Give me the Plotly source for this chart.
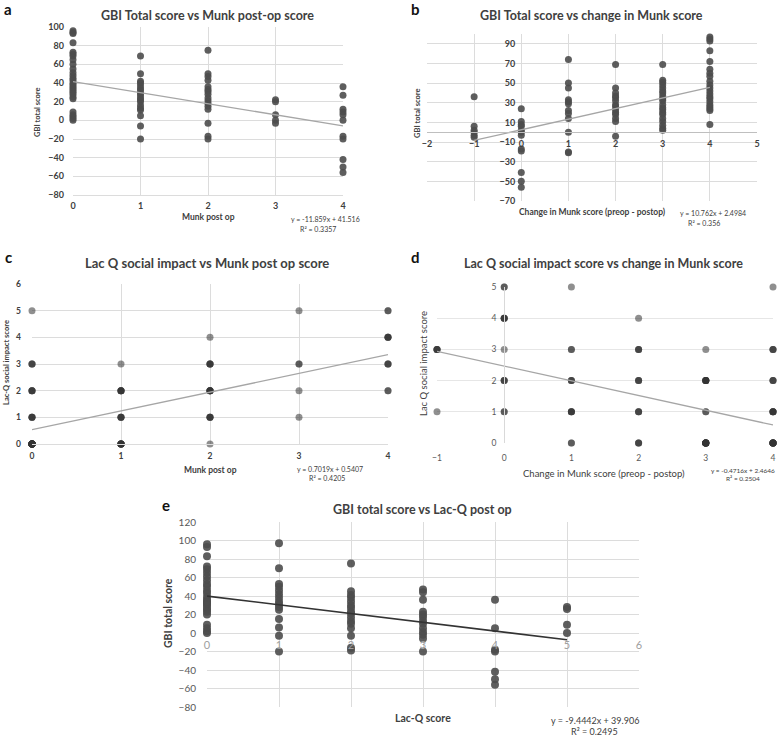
import plotly.graph_objects as go

W, H = 780, 737
FONT = "Lato"

# ---------------- data ----------------
# Panel a: GBI total score vs Munk post-op score
a_munk = [0, 1, 2, 3, 4]
a_gbi = [
    [96, 94, 93, 83, 73, 71, 69, 65, 60, 55, 51, 48, 45, 43, 40, 38, 36, 34, 32, 30, 28, 25, 23, 9, 6, 4, 2, 0],
    [69, 50, 42, 40, 37, 34, 32, 29, 27, 24, 22, 20, 16, 13, 11, 5, -6, -20],
    [75, 50, 47, 43, 36, 33, 31, 28, 24, 21, 18, 15, 12, -3, -17, -20],
    [22, 20, 6, 0, -3],
    [36, 27, 12, 9, 6, 0, -17, -20, -42, -50, -56],
]
a_fit = (-11.859, 41.516)
a_fit_x = [0, 4]

# Panel b: GBI total score vs change in Munk score
b_change = [-1, 0, 1, 2, 3, 4]
b_gbi = [
    [36, 6, 2, 0, -3, -5],
    [24, 11, 8, 6, 2, 0, -3, -17, -19, -41, -50, -56],
    [74, 50, 45, 33, 31, 29, 22, 19, 14, 0, -20, -21],
    [69, 45, 40, 37, 35, 32, 28, 26, 23, 20, 18, 14, 11, -4],
    [69, 53, 51, 48, 45, 42, 40, 37, 34, 32, 28, 25, 23, 20, 18, 14, 11, 7, 4, 2],
    [97, 95, 93, 83, 72, 64, 60, 57, 52, 48, 45, 42, 39, 36, 34, 31, 28, 26, 24, 22, 8],
]
b_fit = (10.762, 2.4984)
b_fit_x = [-1, 4]

# Panel c: Lac-Q social impact vs Munk post op (x, y, number of patients)
c_munk = [0, 0, 0, 0, 0, 1, 1, 1, 1, 2, 2, 2, 2, 2, 3, 3, 3, 3, 4, 4, 4, 4]
c_lacq = [5, 3, 2, 1, 0, 3, 2, 1, 0, 4, 3, 2, 1, 0, 5, 3, 2, 1, 5, 4, 3, 2]
c_count = [1, 3, 4, 4, 16, 1, 5, 4, 8, 1, 4, 6, 4, 1, 1, 2, 1, 1, 2, 4, 3, 2]
c_fit = (0.7019, 0.5407)
c_fit_x = [0, 4]

# Panel d: Lac-Q social impact vs change in Munk score
d_change = [-1, -1, 0, 0, 0, 0, 0, 1, 1, 1, 1, 1, 2, 2, 2, 2, 2, 3, 3, 3, 3, 4, 4, 4, 4, 4]
d_lacq = [3, 1, 5, 4, 3, 2, 1, 5, 3, 2, 1, 0, 4, 3, 2, 1, 0, 3, 2, 1, 0, 5, 3, 2, 1, 0]
d_count = [4, 1, 2, 4, 1, 3, 2, 1, 2, 3, 4, 2, 1, 3, 3, 3, 3, 1, 6, 2, 11, 1, 3, 3, 5, 9]
d_fit = (-0.4716, 2.4646)
d_fit_x = [-1, 4]

# Panel e: GBI total score vs Lac-Q post op
e_lacq = [0, 1, 2, 3, 4, 5]
e_gbi = [
    [96, 93, 83, 72, 69, 65, 61, 57, 53, 50, 46, 43, 39, 36, 34, 33, 31, 30, 27, 25, 23, 20, 9, 5, 2, 0],
    [97, 70, 53, 50, 46, 42, 38, 34, 31, 28, 25, 15, 6, -3, -20],
    [75, 45, 41, 38, 34, 30, 27, 23, 21, 17, 13, 10, 5, -3, -16, -19],
    [47, 44, 36, 23, 20, 17, 13, 10, 5, 1, -2, -6, -20],
    [36, 5, -18, -20, -42, -50, -56],
    [28, 26, 9, 0],
]
e_fit = (-9.4442, 39.906)
e_fit_x = [0, 5]

# ---------------- helpers ----------------
def px(x):
    return x / W

def py(y):
    return 1 - y / H

def flatten(xs, groups):
    X, Y = [], []
    for xv, g in zip(xs, groups):
        X += [xv] * len(g)
        Y += g
    return X, Y

def expand(xs, ys, ns):
    X, Y = [], []
    for xv, yv, n in zip(xs, ys, ns):
        X += [xv] * n
        Y += [yv] * n
    return X, Y

fig = go.Figure()

def add_points(X, Y, xa, ya, color="#4d4d4d", size=7, opacity=0.9):
    fig.add_trace(go.Scatter(x=X, y=Y, mode="markers", xaxis=xa, yaxis=ya,
                             marker=dict(color=color, size=size, opacity=opacity, line=dict(width=0)),
                             cliponaxis=False, showlegend=False, hoverinfo="x+y"))

def add_fit(fx, coef, xa, ya, color, width):
    m, b = coef
    fig.add_trace(go.Scatter(x=fx, y=[m * v + b for v in fx], mode="lines", xaxis=xa, yaxis=ya,
                             line=dict(color=color, width=width), cliponaxis=False,
                             showlegend=False, hoverinfo="skip"))

X, Y = flatten(a_munk, a_gbi)
add_points(X, Y, "x", "y")
add_fit(a_fit_x, a_fit, "x", "y", "#a6a6a6", 1.3)

X, Y = flatten(b_change, b_gbi)
add_points(X, Y, "x2", "y2")
add_fit(b_fit_x, b_fit, "x2", "y2", "#a6a6a6", 1.3)

X, Y = expand(c_munk, c_lacq, c_count)
add_points(X, Y, "x3", "y3", color="#333333", size=7, opacity=0.55)
add_fit(c_fit_x, c_fit, "x3", "y3", "#a6a6a6", 1.3)

X, Y = expand(d_change, d_lacq, d_count)
add_points(X, Y, "x4", "y4", color="#333333", size=7, opacity=0.55)
add_fit(d_fit_x, d_fit, "x4", "y4", "#a6a6a6", 1.3)

X, Y = flatten(e_lacq, e_gbi)
add_points(X, Y, "x5", "y5", size=8)
add_fit(e_fit_x, e_fit, "x5", "y5", "#333333", 1.6)

GRID = "#dcdcdc"
bold9 = dict(family=FONT, size=9, color="#404040", weight="bold")

layout = dict(
    width=W, height=H, margin=dict(l=0, r=0, t=0, b=0, autoexpand=False),
    paper_bgcolor="white", plot_bgcolor="white", showlegend=False,
    font=dict(family=FONT, color="#404040"),
    # a
    xaxis=dict(domain=[px(73), px(343)], range=[0, 4], dtick=1, anchor="y", automargin=False,
               showgrid=True, gridcolor=GRID, zeroline=False, showline=True, linecolor=GRID,
               tickfont=bold9, ticklabelstandoff=2),
    yaxis=dict(domain=[py(195), py(27)], range=[-80, 100], dtick=20, anchor="x", automargin=False,
               showgrid=True, gridcolor=GRID, zeroline=False, tickfont=bold9, ticklabelstandoff=8),
    # b
    xaxis2=dict(domain=[px(427), px(757)], range=[-2, 5], dtick=1, anchor="free", automargin=False,
                position=0.8206, showgrid=True, gridcolor=GRID, zeroline=False,
                showline=True, linecolor="#bfbfbf", tickfont=bold9, ticklabelstandoff=3),
    yaxis2=dict(domain=[py(201), py(34)], range=[-70, 100], tick0=-70, dtick=20, anchor="free",
                automargin=False, position=0.6683, showgrid=True, gridcolor=GRID, zeroline=False,
                tickfont=bold9, ticklabelstandoff=6),
    # c
    xaxis3=dict(domain=[px(32), px(388)], range=[0, 4], dtick=1, anchor="y3", automargin=False,
                showgrid=True, gridcolor=GRID, zeroline=False, showline=True, linecolor=GRID,
                tickfont=dict(family=FONT, size=8.5, color="#404040", weight="bold"), ticklabelstandoff=4),
    yaxis3=dict(domain=[py(444), py(284)], range=[0, 6], dtick=1, anchor="x3", automargin=False,
                showgrid=True, gridcolor=GRID, zeroline=False,
                tickfont=dict(family=FONT, size=8.5, color="#404040", weight="bold"), ticklabelstandoff=10),
    # d
    xaxis4=dict(domain=[px(437), px(773)], range=[-1, 4], dtick=1, anchor="y4", automargin=False,
                showgrid=False, zeroline=False, showline=False,
                tickfont=dict(family=FONT, size=8.5, color="#595959"), ticklabelstandoff=8),
    yaxis4=dict(domain=[py(443), py(287)], range=[0, 5], dtick=1, anchor="free", position=0.6464,
                automargin=False, showgrid=True, gridcolor="#e6e6e6", zeroline=False,
                showline=True, linecolor="#d9d9d9",
                tickfont=dict(family=FONT, size=8.5, color="#595959"), ticklabelstandoff=6),
    # e
    xaxis5=dict(domain=[px(207), px(639)], range=[0, 6], dtick=1, anchor="free", position=0.1412,
                automargin=False, showgrid=True, gridcolor=GRID, zeroline=False, showline=False,
                tickfont=dict(family=FONT, size=11, color="#a0a0a0"), ticklabelstandoff=4),
    yaxis5=dict(domain=[py(707), py(522)], range=[-80, 120], dtick=20, anchor="x5", automargin=False,
                showgrid=True, gridcolor=GRID, zeroline=False,
                tickfont=dict(family=FONT, size=10, color="#595959"), ticklabelstandoff=10),
)
fig.update_layout(**layout)

ann = []

def text(x, y, s, size, bold=False, color="#404040", angle=0, xanchor="center"):
    ann.append(dict(x=px(x), y=py(y), xref="paper", yref="paper", text=s, showarrow=False,
                    xanchor=xanchor, yanchor="middle", textangle=angle,
                    font=dict(family=FONT, size=size, color=color, weight="bold" if bold else "normal")))

# panel letters
text(8, 9, "a", 15, True, "#111111")
text(415, 9, "b", 15, True, "#111111")
text(8, 257, "c", 15, True, "#111111")
text(415, 257, "d", 15, True, "#111111")
text(166, 505, "e", 15, True, "#111111")

# titles
text(207, 15, "GBI Total score vs Munk post-op score", 12.5, True)
text(591, 15, "GBI Total score vs change in Munk score", 12.5, True)
text(207, 263, "Lac Q social impact vs Munk post op score", 13, True)
text(603, 263, "Lac Q social impact score vs change in Munk score", 12.5, True)
text(423, 510, "GBI total score vs Lac-Q post op", 12.5, True)

# axis titles
text(38, 112, "GBI total score", 7.5, True, angle=-90)
text(208, 217, "Munk post op", 8.5, True)
text(418, 113, "GBI total score", 7.5, True, angle=-90)
text(592, 212, "Change in Munk score (preop - postop)", 8.5, True)
text(6, 363, "Lac-Q social impact score", 7.5, True, angle=-90)
text(210, 470, "Munk post op", 8.5, True)
text(423, 363, "Lac Q social impact score", 9.5, False, angle=-90)
text(604, 473, "Change in Munk score (preop - postop)", 9.5, False)
text(168, 613, "GBI total score", 10.5, True, angle=-90)
text(423, 718, "Lac-Q score", 10.5, True)

# trendline equations
text(325, 219, "y = -11.859x + 41.516", 7)
text(318, 229, "R² = 0.3357", 7)
text(713, 213, "y = 10.762x + 2.4984", 7)
text(704, 223, "R² = 0.356", 7)
text(330, 469, "y = 0.7019x + 0.5407", 7)
text(327, 478, "R² = 0.4205", 7)
text(743, 470, "y = -0.4716x + 2.4646", 6.5)
text(743, 478, "R² = 0.2504", 6.5)
text(595, 720, "y = -9.4442x + 39.906", 9)
text(594, 731, "R² = 0.2495", 9)

fig.update_layout(annotations=ann)
fig.write_html(
    "out.html",
    config={"displayModeBar": False},
    post_script="document.body.style.margin='0';document.body.style.padding='0';"
                "document.documentElement.style.overflow='hidden';",
)
